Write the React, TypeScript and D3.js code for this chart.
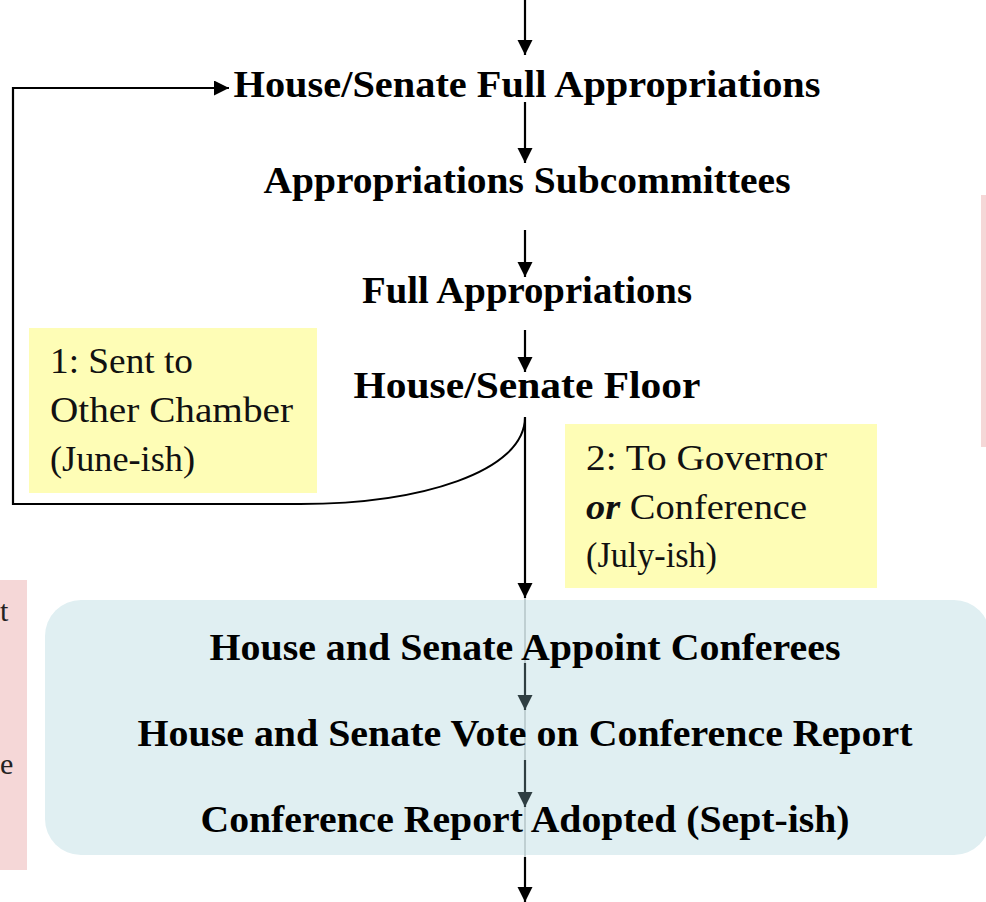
import React from "react";
import * as d3 from "d3";

// Flow steps (text)
const mainSteps = [
  "House/Senate Full Appropriations",
  "Appropriations Subcommittees",
  "Full Appropriations",
  "House/Senate Floor",
];
const conferenceSteps = [
  "House and Senate Appoint Conferees",
  "House and Senate Vote on Conference Report",
  "Conference Report Adopted (Sept-ish)",
];
const noteOtherChamber = ["1: Sent to", "Other Chamber", "(June-ish)"];
const noteGovernor = [
  [{ t: "2: To Governor", em: false }],
  [{ t: "or", em: true }, { t: " Conference", em: false }],
  [{ t: "(July-ish)", em: false }],
];
const cutoffFragments = ["t", "e"];

// Layout
const W = 986;
const H = 902;
const CX = 525;
const mainBaselines = [97, 193, 303, 398];
const mainWidths = [587, 527, 330, 347];
const confBaselines = [660, 746, 832];
const confWidths = [631, 775, 649];
const noteOtherWidths = [143, 243, 145];
const noteGovWidths = [241, 221, 131];

// vertical arrows [from, to]
const blackArrows: [number, number][] = [
  [0, 55],
  [102, 163],
  [230, 277],
  [330, 372],
  [417, 598],
  [857, 902],
];
const slateArrows: [number, number][] = [
  [663, 710],
  [760, 807],
];

const line = d3.line<[number, number]>();

export default function App() {
  const serif = "'Liberation Serif', 'Times New Roman', serif";
  const curve = d3.path();
  curve.moveTo(CX, 417);
  curve.bezierCurveTo(CX, 472, 420, 504, 300, 504);
  const loop = line([
    [300, 504],
    [13, 504],
    [13, 88],
    [229, 88],
  ]);

  return (
    <svg
      width={W}
      height={H}
      style={{ position: "absolute", left: 0, top: 0, background: "#fff" }}
      fontFamily={serif}
    >
      <defs>
        <marker id="ah" markerUnits="userSpaceOnUse" markerWidth={16} markerHeight={16}
          refX={15} refY={7.5} orient="auto" viewBox="0 0 16 16">
          <path d="M0,0 L15,7.5 L0,15 Z" fill="#000" />
        </marker>
        <marker id="ahs" markerUnits="userSpaceOnUse" markerWidth={16} markerHeight={16}
          refX={15} refY={7.5} orient="auto" viewBox="0 0 16 16">
          <path d="M0,0 L15,7.5 L0,15 Z" fill="#2f3e42" />
        </marker>
      </defs>

      {/* pink side panels, cut off by the frame */}
      <rect x={0} y={580} width={27} height={290} fill="#f5d7d7" />
      <rect x={981} y={195} width={5} height={252} fill="#f5d7d7" />
      <text x={0} y={621} fontSize={30} fill="#222">{cutoffFragments[0]}</text>
      <text x={0} y={774} fontSize={30} fill="#222">{cutoffFragments[1]}</text>

      {/* yellow notes */}
      <rect x={29} y={328} width={288} height={165} fill="#fefdb6" />
      {noteOtherChamber.map((s, i) => (
        <text key={s} x={50} y={373 + i * 49} fontSize={35} fill="#111"
          textLength={noteOtherWidths[i]} lengthAdjust="spacingAndGlyphs">{s}</text>
      ))}
      <rect x={565} y={424} width={312} height={164} fill="#fefdb6" />
      {noteGovernor.map((parts, i) => (
        <text key={i} x={586} y={470 + i * 48.5} fontSize={35} fill="#111"
          textLength={noteGovWidths[i]} lengthAdjust="spacingAndGlyphs">
          {parts.map((p, j) => (
            <tspan key={j} fontWeight={p.em ? "bold" : "normal"} fontStyle={p.em ? "italic" : "normal"}>{p.t}</tspan>
          ))}
        </text>
      ))}

      {/* conference box */}
      <rect x={45} y={600} width={945} height={255} rx={36} fill="#e0eff2" />
      <line x1={CX} x2={CX} y1={598} y2={857} stroke="#b5c4c7" strokeWidth={1.5} />

      {/* connectors */}
      {blackArrows.map(([a, b], i) => (
        <path key={i} d={line([[CX, a], [CX, b]]) || ""} stroke="#000" strokeWidth={2.2}
          fill="none" markerEnd="url(#ah)" />
      ))}
      {slateArrows.map(([a, b], i) => (
        <path key={i} d={line([[CX, a], [CX, b]]) || ""} stroke="#2f3e42" strokeWidth={2.2}
          fill="none" markerEnd="url(#ahs)" />
      ))}
      <path d={curve.toString()} stroke="#000" strokeWidth={2} fill="none" />
      <path d={loop || ""} stroke="#000" strokeWidth={2.2} fill="none" markerEnd="url(#ah)" />

      {/* step labels */}
      {mainSteps.map((s, i) => (
        <text key={s} x={527} y={mainBaselines[i]} textAnchor="middle" fontSize={38}
          fontWeight="bold" fill="#000" textLength={mainWidths[i]} lengthAdjust="spacingAndGlyphs">{s}</text>
      ))}
      {conferenceSteps.map((s, i) => (
        <text key={s} x={525} y={confBaselines[i]} textAnchor="middle" fontSize={38}
          fontWeight="bold" fill="#000" textLength={confWidths[i]} lengthAdjust="spacingAndGlyphs">{s}</text>
      ))}
    </svg>
  );
}
